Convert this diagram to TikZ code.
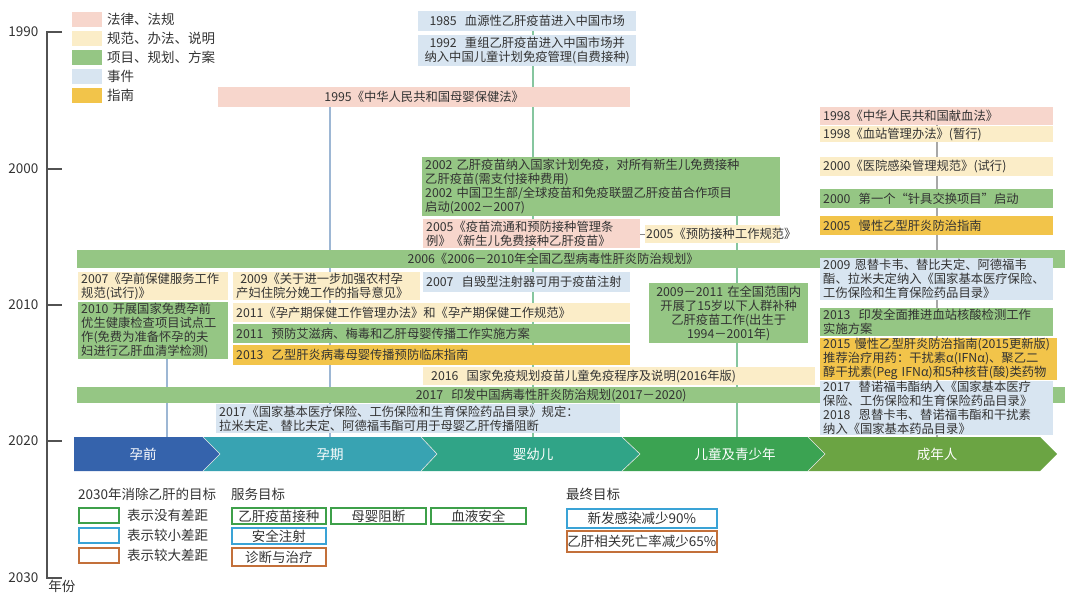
\documentclass[tikz,border=0pt]{standalone}
\usepackage{fontspec}
\setmainfont{Noto Sans CJK SC}
\usetikzlibrary{backgrounds}

\definecolor{ink}{HTML}{333333}
\definecolor{claw}{HTML}{F7D6CC}
\definecolor{crule}{HTML}{FBEDC8}
\definecolor{cproj}{HTML}{95C684}
\definecolor{cevt}{HTML}{D8E5F1}
\definecolor{cguide}{HTML}{F2C44A}
\definecolor{cPre}{HTML}{3563AC}
\definecolor{cPreg}{HTML}{38A3B2}
\definecolor{cInf}{HTML}{30A487}
\definecolor{cChild}{HTML}{3BA352}
\definecolor{cAdult}{HTML}{6BA443}
\definecolor{cNo}{HTML}{3EA04A}
\definecolor{cSmall}{HTML}{3AA3D6}
\definecolor{cBig}{HTML}{C3703A}
\definecolor{cLineB}{HTML}{9DB7D4}
\definecolor{cLineG}{HTML}{86C69F}
\definecolor{cLineGr}{HTML}{A8A8A8}

\newcommand\boxfont{\fontsize{12.3}{14}\selectfont}
\newcommand\legfont{\fontsize{13.5}{15}\selectfont}

\tikzset{
  box/.style={anchor=north west,inner xsep=3pt,inner ysep=0pt,font=\boxfont,
    text=ink,align=left},
  lawbox/.style={box,fill=claw},
  rulebox/.style={box,fill=crule},
  projbox/.style={box,fill=cproj},
  evtbox/.style={box,fill=cevt},
  guidebox/.style={box,fill=cguide},
  stage/.style={text=white,font=\legfont},
  goal/.style={draw=#1,line width=1.8pt,anchor=north west,inner sep=0pt,
    font=\legfont,text=ink},
  vline/.style={line width=1.2pt,#1},
}

\begin{document}
\begin{tikzpicture}[x=1pt,y=-1pt]
  \useasboundingbox (0,0) rectangle (1080,595);

  % legend of colours
  \foreach \c/\t [count=\i] in {claw/法律、法规,crule/规范、办法、说明,
      cproj/项目、规划、方案,cevt/事件,cguide/指南}{
    \fill[\c] (72,{12+19*(\i-1)}) rectangle ++(30,15);
    \node[anchor=west,font=\legfont,text=ink,inner sep=0pt]
      at (107,{19.5+19*(\i-1)}) {\t};
  }

  % time axis
  \draw[line width=1.6pt,ink!85] (62,32) -- (47,32) -- (47,578) -- (62,578);
  \foreach \yr/\yy in {2000/169,2010/305,2020/441}
    \draw[line width=1.6pt,ink!85] (47,\yy) -- (62,\yy);
  \foreach \yr/\yy in {1990/32,2000/169,2010/305,2020/441,2030/578}
    \node[font=\legfont,text=ink,anchor=east] (y\yr) at (42,\yy) {\yr};
  \node[font=\legfont,text=ink,anchor=south] (yLab) at (62,596) {年份};

  % column positions
  \coordinate (colA) at (167,0);
  \coordinate (colB) at (330,0);
  \coordinate (colC) at (533,0);
  \coordinate (colD) at (737,0);
  \coordinate (colE) at (937,0);

  % top boxes
  \node[evtbox,text width=212pt,minimum height=20pt,align=center] (e1985) at (418,11)
    {1985~~血源性乙肝疫苗进入中国市场};
  \node[evtbox,text width=212pt,minimum height=31pt,align=center] (e1992) at (418,35)
    {1992~~重组乙肝疫苗进入中国市场并\\纳入中国儿童计划免疫管理(自费接种)};
  \node[lawbox,text width=406pt,minimum height=20pt,align=center] (l1995) at (218,87)
    {1995《中华人民共和国母婴保健法》};

  % right column
  \node[lawbox,text width=227pt,minimum height=18pt] (l1998) at (820,107)
    {1998《中华人民共和国献血法》};
  \node[rulebox,text width=227pt,minimum height=16pt] (r1998) at (820,126)
    {1998《血站管理办法》(暂行)};
  \node[rulebox,text width=227pt,minimum height=19pt] (r2000) at (820,157)
    {2000《医院感染管理规范》(试行)};
  \node[projbox,text width=227pt,minimum height=19pt] (p2000) at (820,189)
    {2000~~第一个“针具交换项目”启动};
  \node[guidebox,text width=227pt,minimum height=19pt] (g2005) at (820,216)
    {2005~~慢性乙型肝炎防治指南};

  % middle column
  \node[projbox,text width=352pt,minimum height=59pt] (p2002) at (422,157)
    {2002 乙肝疫苗纳入国家计划免疫，对所有新生儿免费接种\\乙肝疫苗(需支付接种费用)\\
     2002 中国卫生部/全球疫苗和免疫联盟乙肝疫苗合作项目\\启动(2002－2007)};
  \node[lawbox,text width=211pt,minimum height=29pt] (l2005) at (423,219)
    {2005《疫苗流通和预防接种管理条\\例》《新生儿免费接种乙肝疫苗》};
  \node[rulebox,text width=133pt,minimum height=18pt,inner xsep=1pt] (r2005) at (645,225)
    {2005《预防接种工作规范》};

  % wide bar 2006
  \node[projbox,text width=982pt,minimum height=18pt,align=center] (p2006) at (77,250)
    {2006《2006－2010年全国乙型病毒性肝炎防治规划》\hspace*{36pt}};

  % 2007 -- 2013 rows
  \node[rulebox,text width=144pt,minimum height=28pt] (r2007) at (78,272)
    {2007《孕前保健服务工作\\规范(试行)》};
  \node[projbox,text width=144pt,minimum height=57pt] (p2010) at (78,302)
    {2010~开展国家免费孕前\\优生健康检查项目试点工\\作(免费为准备怀孕的夫\\妇进行乙肝血清学检测)};
  \node[rulebox,text width=181pt,minimum height=28pt] (r2009) at (233,272)
    {~2009《关于进一步加强农村孕\\产妇住院分娩工作的指导意见》};
  \node[evtbox,text width=201pt,minimum height=20pt] (e2007) at (423,272)
    {2007~~自毁型注射器可用于疫苗注射};
  \node[rulebox,text width=391pt,minimum height=19pt] (r2011) at (233,303)
    {2011《孕产期保健工作管理办法》和《孕产期保健工作规范》};
  \node[projbox,text width=391pt,minimum height=19pt] (p2011) at (233,324)
    {2011~~预防艾滋病、梅毒和乙肝母婴传播工作实施方案};
  \node[guidebox,text width=391pt,minimum height=20pt] (g2013) at (233,345)
    {2013~~乙型肝炎病毒母婴传播预防临床指南};
  \node[projbox,text width=153pt,minimum height=60pt,align=center] (p0911) at (649,283)
    {2009－2011 在全国范围内\\开展了15岁以下人群补种\\乙肝疫苗工作(出生于\\1994－2001年)};
  \node[rulebox,text width=376pt,minimum height=18pt,inner xsep=8pt] (r2016) at (423,367)
    {2016~~国家免疫规划疫苗儿童免疫程序及说明(2016年版)};

  % wide bar 2017
  \node[projbox,text width=982pt,minimum height=16pt,align=center] (p2017) at (77,387)
    {2017~~印发中国病毒性肝炎防治规划(2017－2020)\hspace*{40pt}};

  % right column, lower part
  \node[evtbox,text width=227pt,minimum height=42pt] (e2009) at (820,258)
    {2009 恩替卡韦、替比夫定、阿德福韦\\酯、拉米夫定纳入《国家基本医疗保险、\\工伤保险和生育保险药品目录》};
  \node[projbox,text width=227pt,minimum height=28pt] (p2013) at (820,308)
    {2013~~印发全面推进血站核酸检测工作\\实施方案};
  \node[guidebox,text width=231pt,minimum height=42pt] (g2015) at (820,338)
    {2015 慢性乙型肝炎防治指南(2015更新版)\\推荐治疗用药：干扰素α(IFNα)、聚乙二\\醇干扰素(Peg IFNα)和5种核苷(酸)类药物};
  \node[evtbox,text width=227pt,minimum height=53pt] (e2017r) at (820,381)
    {2017~~替诺福韦酯纳入《国家基本医疗\\保险、工伤保险和生育保险药品目录》\\
     2018~~恩替卡韦、替诺福韦酯和干扰素\\纳入《国家基本药品目录》};
  \node[evtbox,text width=398pt,minimum height=29pt] (e2017) at (216,404)
    {2017《国家基本医疗保险、工伤保险和生育保险药品目录》规定：\\
     拉米夫定、替比夫定、阿德福韦酯可用于母婴乙肝传播阻断};

  % stage band
  \fill[cPre] (74,437) -- (203,437) -- (220,454) -- (203,471) -- (74,471) -- cycle;
  \fill[cPreg] (203,437) -- (421,437) -- (437,454) -- (421,471) -- (203,471)
    -- (220,454) -- cycle;
  \fill[cInf] (421,437) -- (622,437) -- (640,454) -- (622,471) -- (421,471)
    -- (437,454) -- cycle;
  \fill[cChild] (622,437) -- (808,437) -- (825,454) -- (808,471) -- (622,471)
    -- (640,454) -- cycle;
  \fill[cAdult] (808,437) -- (1040,437) -- (1057,454) -- (1040,471) -- (808,471)
    -- (825,454) -- cycle;
  \draw[white!80!gray,line width=.6pt] (203,437) -- (220,454) -- (203,471)
    (421,437) -- (437,454) -- (421,471) (622,437) -- (640,454) -- (622,471)
    (808,437) -- (825,454) -- (808,471);
  \node[stage] (sPre) at (143,454) {孕前};
  \node[stage] (sPreg) at (330,454) {孕期};
  \node[stage] (sInf) at (533,454) {婴幼儿};
  \node[stage] (sChild) at (735,454) {儿童及青少年};
  \node[stage] (sAdult) at (937,454) {成年人};

  % connectors behind the boxes
  \begin{pgfonlayer}{background}
    \draw[vline=cLineB] (p2010.south -| colA) -- (colA |- sPre);
    \draw[vline=cLineB] (l1995.south -| colB) -- (colB |- sPreg);
    \draw[vline=cLineG] (e1985.south -| colC) -- (colC |- sInf);
    \draw[vline=cLineG] (p2002.south -| colD) -- (colD |- sChild);
    \draw[vline=cLineGr] (l1998.south -| colE) -- (colE |- sAdult);
    \draw[line width=.8pt,ink!60] (l2005.east |- r2005) -- (r2005.west);
  \end{pgfonlayer}

  % goals
  \node[anchor=west,font=\legfont,text=ink,inner sep=0pt] (hGoal) at (78,494)
    {2030年消除乙肝的目标};
  \foreach \c/\t [count=\i] in {cNo/表示没有差距,cSmall/表示较小差距,cBig/表示较大差距}{
    \node[goal=\c,minimum width=40pt,minimum height=15pt] (k\i) at (78,{507+20*(\i-1)}) {};
    \node[anchor=west,font=\legfont,text=ink,inner sep=0pt] at ([xshift=7pt]k\i.east) {\t};
  }
  \node[anchor=west,font=\legfont,text=ink,inner sep=0pt] (hServ) at (231,494) {服务目标};
  \node[goal=cNo,minimum width=94pt,minimum height=16pt] (sv1) at (231,507) {乙肝疫苗接种};
  \node[goal=cNo,minimum width=95pt,minimum height=16pt] (sv2) at (330,507) {母婴阻断};
  \node[goal=cNo,minimum width=95pt,minimum height=16pt] (sv3) at (430,507) {血液安全};
  \node[goal=cSmall,minimum width=94pt,minimum height=16pt] (sv4) at (231,527) {安全注射};
  \node[goal=cBig,minimum width=94pt,minimum height=18pt] (sv5) at (231,547) {诊断与治疗};
  \node[anchor=west,font=\legfont,text=ink,inner sep=0pt] (hFinal) at (566,494) {最终目标};
  \node[goal=cSmall,minimum width=150pt,minimum height=19pt] (f1) at (566,508) {新发感染减少90\%};
  \node[goal=cBig,minimum width=150pt,minimum height=21pt] (f2) at (566,530) {乙肝相关死亡率减少65\%};
\end{tikzpicture}
\end{document}
